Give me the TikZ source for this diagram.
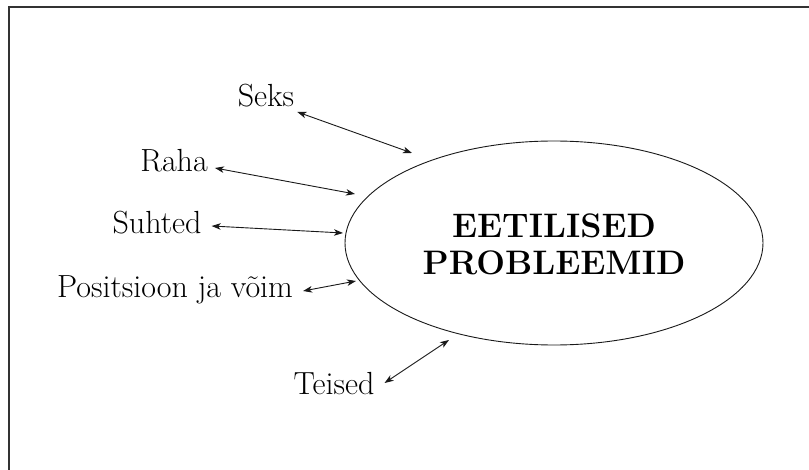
\documentclass[tikz,border=0pt]{standalone}
\usetikzlibrary{arrows.meta,shapes.geometric}
\begin{document}
\begin{tikzpicture}[x=1pt,y=-1pt,
  label/.style={font=\fontsize{32}{36}\selectfont, inner sep=0pt, anchor=base},
  twoway/.style={{Stealth[length=9pt,width=6.5pt,inset=2.5pt]}-{Stealth[length=9pt,width=6.5pt,inset=2.5pt]}, line width=0.9pt, draw=black!90},
  core/.style={ellipse, draw=black!90, line width=0.9pt, minimum width=418pt, minimum height=204pt, inner sep=0pt},
  title/.style={font=\bfseries\fontsize{34}{37}\selectfont, anchor=base}
]
\useasboundingbox (0,0) rectangle (809,470);
% frame (top and left edges)
\draw[line width=1.3pt, draw=black!80] (9,470) -- (9,7) -- (809,7);

% central ellipse with its title
\node[core] (ep) at (554,243) {};
\node[title] (t1) at (554,238) {EETILISED};
\node[title] (t2) at (554,275) {PROBLEEMID};

% surrounding topics
\node[label] (seks) at (266,107) {Seks};
\node[label] (raha) at (174,172) {Raha};
\node[label] (suhted) at (157,234) {Suhted};
\node[label] (pos) at (175,298) {Positsioon ja võim};
\node[label] (teised) at (334,395) {Teised};

% arrow ends beside the ellipse
\coordinate (eseks) at (412,153);
\coordinate (eraha) at (355,194);
\coordinate (esuhted) at (343,233);
\coordinate (epos) at (356,281);
\coordinate (eteised) at (449,340);

\draw[twoway] ([shift={(3,5)}]seks.base east) -- (eseks);
\draw[twoway] ([shift={(7,-4)}]raha.base east) -- (eraha);
\draw[twoway] ([shift={(10,-8)}]suhted.base east) -- (esuhted);
\draw[twoway] ([shift={(10,-7)}]pos.base east) -- (epos);
\draw[twoway] ([shift={(10,-12)}]teised.base east) -- (eteised);
\end{tikzpicture}
\end{document}
